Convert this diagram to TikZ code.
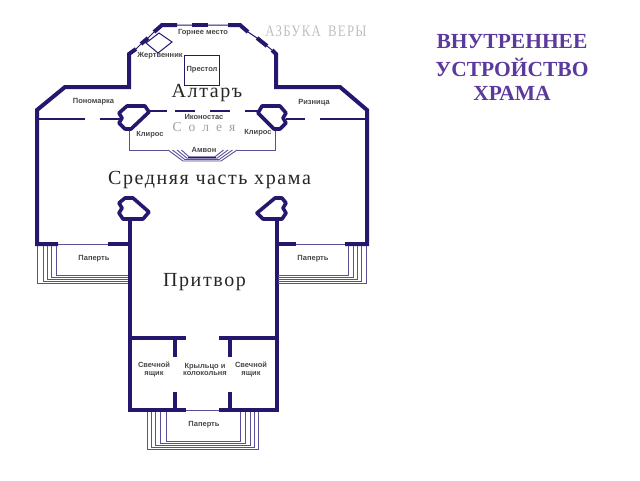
\documentclass[tikz,border=0pt]{standalone}
\usepackage{fontspec}
\setmainfont{Liberation Sans}
\newfontfamily\serifw[LetterSpace=8]{Liberation Serif}
\newfontfamily\serifa[LetterSpace=10]{Liberation Serif}
\newfontfamily\serift{Liberation Serif}
\definecolor{wall}{HTML}{26176E}
\definecolor{thinw}{HTML}{5A5098}
\definecolor{ttl}{HTML}{5A3A9C}
\begin{document}
\begin{tikzpicture}[x=1pt,y=-1pt,
  thick wall/.style={draw=wall,line width=4pt,line cap=butt,line join=miter},
  thin wall/.style={draw=wall,line width=1pt},
  pillar/.style={draw=wall,line width=3.6pt,line join=round,fill=white},
  step line/.style={draw=thinw,line width=.9pt},
  small/.style={font=\fontsize{7.5}{7.4}\selectfont\bfseries,text=black!72,align=center,inner sep=0pt},
  big/.style={font=\serifw\fontsize{20}{22}\selectfont,text=black!85,inner sep=0pt},
  ttlt/.style={font=\serift\bfseries\fontsize{21.5}{25}\selectfont,text=ttl,inner sep=0pt}]
\useasboundingbox (0,0) rectangle (640,480);
% outline top
\draw[thick wall] (177,25) -- (162,25) -- (154,32);
\draw[thick wall] (148,38) -- (141,44);
\draw[thick wall] (136,49) -- (129,54) -- (129,87) -- (121,87);
\draw[thick wall] (192,25) -- (208,25);
\draw[thick wall] (228,25) -- (240,25) -- (248,32);
\draw[thick wall] (257,38) -- (267,46);
\draw[thick wall] (272,50) -- (276,54) -- (276,87) -- (340,87) -- (367,110) -- (367,244) -- (345,244);
\draw[thick wall] (121,87) -- (65,87) -- (37,110) -- (37,244) -- (58,244);
\draw[thin wall] (177,25) -- (192,25) (208,25) -- (228,25) (154,32) -- (148,38) (141,44) -- (136,49) (248,32) -- (257,38) (267,46) -- (272,50);
% lower walls
\draw[step line] (58,244) -- (108,244) (296,244) -- (345,244);
\draw[thick wall] (108,244) -- (130,244);
\draw[thick wall] (296,244) -- (277,244);
\draw[thick wall] (129.5,218) -- (129.5,412) ;
\draw[thick wall] (276.5,218) -- (276.5,412);
\draw[thick wall] (128,338) -- (186,338) (219,338) -- (279,338);
\draw[thick wall] (128,410) -- (186,410) (219,410) -- (279,410);
\draw[step line] (186,410) -- (219,410);
\draw[thick wall] (175,338) -- (175,357) (175,392) -- (175,410) (230,338) -- (230,357) (230,392) -- (230,410);
% steps bottom
\foreach \a/\b/\c in {147.5/258/449,151.5/254/447,155.5/250/445,160/245.5/443,166/240/441}
  \draw[step line] (\a,412) -- (\a,\c) -- (\b,\c) -- (\b,412);
% steps left
\foreach \a/\c in {37.5/283,43/281,47/279,51/277,56/275}
  \draw[step line] (\a,246) -- (\a,\c) -- (128,\c);
% steps right
\foreach \a/\c in {366.5/283,361/281,357/279,353/277,348/275}
  \draw[step line] (\a,246) -- (\a,\c) -- (278,\c);
% iconostasis
\draw[thin wall,line width=1.3pt] (145,111) -- (167,111) (175,111) -- (195,111) (210,111) -- (230,111) (245,111) -- (260,111);
\draw[thin wall,line width=1.3pt] (37,119) -- (85,119) (100,119) -- (120,119) (286,119) -- (305,119) (320,119) -- (367,119);
% kliros
\draw[step line] (129,131) -- (129,150) -- (168,150);
\draw[step line] (275.5,131) -- (275.5,150) -- (237,150);
% amvon
\foreach \k in {0,1,2,3}
  \draw[step line] ({168+\k*4.5},150) -- ({183+\k*2},{161-\k*1.4}) -- ({221-\k*2},{161-\k*1.4}) -- ({237-\k*4.5},150);
\draw[draw=wall,line width=1.6pt] (188,157.5) -- (216,157.5);
% pillars
\draw[pillar] (127,106) -- (145,106) -- (149,112) -- (131,129) -- (125,129) -- (119,123) -- (122,118) -- (119,113) -- cycle;
\draw[pillar] (262,106) -- (280,106) -- (286,113) -- (283,118) -- (286,123) -- (280,129) -- (274,129) -- (258,113) -- cycle;
\draw[pillar] (125,198) -- (133,198) -- (149,212) -- (143,219) -- (123,219) -- (119,213) -- (122,208) -- (119,203) -- cycle;
\draw[pillar] (275,198) -- (282,198) -- (286,203) -- (283,208) -- (286,213) -- (282,219) -- (263,219) -- (257,213) -- cycle;
% altar furniture
\draw[thin wall] (159,33) -- (172,42) -- (158,53) -- (146,43) -- cycle;
\draw[thin wall] (184,55) rectangle (219,85);
% labels
\node[small] (gornee) at (203,33) {Горнее место};
\node[small] (zhert) at (160,56) {Жертвенник};
\node[small] (prest) at (202,70) {Престол};
\node[small] (pono) at (93.5,102) {Пономарка};
\node[small] (rizn) at (314,102.5) {Ризница};
\node[small] (ikon) at (204,116.5) {Иконостас};
\node[small] (kl1) at (150,135) {Клирос};
\node[small] (kl2) at (258,133) {Клирос};
\node[small] (amvon) at (204,150) {Амвон};
\node[small] (pap1) at (94,259) {Паперть};
\node[small] (pap2) at (313,259) {Паперть};
\node[small] (pap3) at (204,425) {Паперть};
\node[small] (sv1) at (154,369.5) {Свечной\\ящик};
\node[small] (sv2) at (251,369.5) {Свечной\\ящик};
\node[small] (kr) at (205,369.5) {Крыльцо и\\колокольня};
\node[big] (altar) at (207,93) {Алтаръ};
\node[big] (sred) at (209.5,180) {Средняя часть храма};
\node[big] (pritv) at (204.5,282) {Притвор};
\node[font=\serift\fontsize{13.5}{15}\selectfont,text=black!38,inner sep=0pt] (soleya) at (204,127.5) {С\hspace{7pt}о\hspace{7pt}л\hspace{7pt}е\hspace{7pt}я};
\node[font=\serifa\fontsize{16}{18}\selectfont,text=black!25,inner sep=0pt,xscale=.8] (azb) at (316,31) {АЗБУКА\hspace{9pt}ВЕРЫ};
\node[ttlt] (t1) at (512,42) {ВНУТРЕННЕЕ};
\node[ttlt] (t2) at (512,67) {УСТРОЙСТВО};
\node[ttlt] (t3) at (512,93) {ХРАМА};
\end{tikzpicture}
\end{document}
